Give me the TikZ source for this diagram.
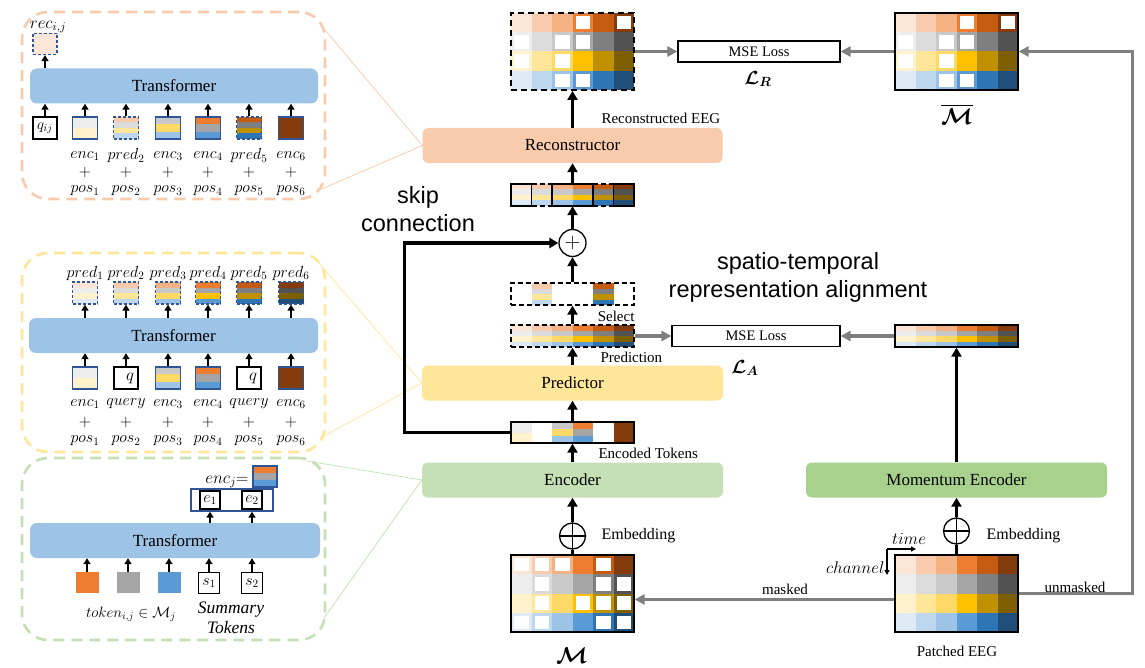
\RequirePackage{fix-cm}
\documentclass[tikz,border=0pt]{standalone}
\usepackage{amsmath,amssymb,bm}
\usepackage{fontspec}
\setmainfont{Liberation Serif}
\setsansfont{Liberation Sans}
\usetikzlibrary{arrows.meta,calc}
\definecolor{o1}{HTML}{FBE5D6}\definecolor{o2}{HTML}{F8CBAD}\definecolor{o3}{HTML}{F4B183}\definecolor{o4}{HTML}{ED7D31}\definecolor{o5}{HTML}{C55A11}\definecolor{o6}{HTML}{843C0C}
\definecolor{g1}{HTML}{EDEDED}\definecolor{g2}{HTML}{DBDBDB}\definecolor{g3}{HTML}{C9C9C9}\definecolor{g4}{HTML}{A5A5A5}\definecolor{g5}{HTML}{7F7F7F}\definecolor{g6}{HTML}{525252}
\definecolor{y1}{HTML}{FFF2CC}\definecolor{y2}{HTML}{FFE699}\definecolor{y3}{HTML}{FFD966}\definecolor{y4}{HTML}{FFC000}\definecolor{y5}{HTML}{BF9000}\definecolor{y6}{HTML}{7F6000}
\definecolor{b1}{HTML}{DEEBF7}\definecolor{b2}{HTML}{BDD7EE}\definecolor{b3}{HTML}{9DC3E6}\definecolor{b4}{HTML}{5B9BD5}\definecolor{b5}{HTML}{2E75B6}\definecolor{b6}{HTML}{1F4E79}
\definecolor{recf}{HTML}{F8CBAD}\definecolor{predf}{HTML}{FFE699}\definecolor{encf}{HTML}{C5E0B4}\definecolor{momf}{HTML}{A9D18E}
\definecolor{trf}{HTML}{9DC3E6}\definecolor{tokblue}{HTML}{2F5597}\definecolor{garrow}{HTML}{7F7F7F}
\newcommand\tokbands[6]{%
  \foreach \cl [count=\kk from 0] in {#6} {%
    \fill[fill=\cl] ({#1-#3/2},{#2+\kk*#4/#5}) rectangle ({#1+#3/2},{#2+(\kk+1)*#4/#5});}}
\newcommand\bandstrip[3]{%
  \foreach \rr [count=\ri from 0] in {o,g,y,b} {%
    \foreach \cc in {#3} {%
      \fill[fill=\rr\cc] ({#1+(\cc-1)*20.5},{#2+\ri*5.5}) rectangle ++(20.5,5.5);}}}
\newcommand\eegfill[2]{%
  \foreach \rr [count=\ri from 0] in {o,g,y,b} {%
    \foreach \cc in {1,...,6} {%
      \fill[fill=\rr\cc] ({#1+(\cc-1)*20.5},{#2+\ri*19.25}) rectangle ++(20.5,19.25);}}}
\newcommand\eegmask[3]{%
  \foreach \cc/\ri in {#3} {%
    \fill[white] ({#1+(\cc-1)*20.5+3},{#2+\ri*19.25+2.8}) rectangle ++(14.5,13.65);}}
\begin{document}
\begin{tikzpicture}[x=1pt,y=-1pt,
 module/.style={rounded corners=6pt, minimum height=35pt, inner sep=0pt, font=\fontsize{17}{19}\selectfont},
 trans/.style={rounded corners=7pt, fill=trf, minimum height=35pt, inner sep=0pt, font=\fontsize{17}{19}\selectfont},
 panel/.style={dash pattern=on 11pt off 7pt, line width=2.6pt, rounded corners=26pt, minimum width=303pt, inner sep=0pt},
 eegbox/.style={draw, line width=1.3pt, minimum width=123pt, minimum height=77pt, inner sep=0pt},
 tstrip/.style={draw, line width=1.3pt, minimum width=123pt, minimum height=22pt, inner sep=0pt},
 tline/.style={line width=3pt},
 arr/.style={line width=3pt, -{Triangle[length=9pt,width=10pt]}},
 garr/.style={draw=garrow, line width=3.2pt, -{Triangle[length=10pt,width=10pt]}},
 parr/.style={line width=2.2pt, -{Triangle[length=6pt,width=7pt]}},
 tokb/.style={draw=tokblue, line width=1.3pt, minimum width=25pt, minimum height=22pt, inner sep=0pt},
 tokd/.style={tokb, dash pattern=on 3pt off 2pt},
 tokq/.style={draw=black, line width=1.8pt, minimum width=24pt, minimum height=22pt, inner sep=0pt},
 lbl/.style={font=\fontsize{15}{17}\selectfont},
 mlbl/.style={font=\fontsize{17}{19}\selectfont},
 rowl/.style={font=\fontsize{16}{18}\selectfont, inner sep=0pt},
 sans/.style={font=\sffamily\fontsize{23.5}{28}\selectfont, align=center},
 loss/.style={draw, line width=1.2pt, minimum height=21pt, inner sep=0pt, font=\fontsize{14.5}{16}\selectfont},
 conn/.style={line width=0.7pt},
 plusc/.style={circle, draw, line width=1.3pt, minimum size=27pt, inner sep=0pt, fill=white}
]
\useasboundingbox (0,0) rectangle (1145,668);
\fill[white] (0,0) rectangle (1145,668);

% ---------- left panels ----------
\node[panel, draw=recf, minimum height=187pt] (p1) at (173.5,105.5) {};
\node[panel, draw=predf, minimum height=199pt] (p2) at (173.5,352.5) {};
\node[panel, draw=encf, minimum height=182pt] (p3) at (173.5,549) {};

% ---------- main modules ----------
\node[module, fill=recf, minimum width=300pt] (recon) at (572.5,145.5) {Reconstructor};
\node[module, fill=predf, minimum width=301pt] (pred) at (572.5,383) {Predictor};
\node[module, fill=encf, minimum width=301pt] (enc) at (572.5,480) {Encoder};
\node[module, fill=momf, minimum width=301pt] (mom) at (956.5,480) {Momentum Encoder};

% connectors from panels
\coordinate (p1a) at (325,30); \coordinate (p1b) at (317,191);
\coordinate (p2a) at (318,262); \coordinate (p2b) at (322,437);
\coordinate (p3a) at (307,461); \coordinate (p3b) at (324,618);
\draw[conn, draw=recf] (p1a) -- (recon.west) -- (p1b);
\draw[conn, draw=predf] (p2a) -- (pred.west) -- (p2b);
\draw[conn, draw=encf] (p3a) -- (enc.west) -- (p3b);

% ---------- EEG grids ----------
\eegfill{511}{13}\eegmask{511}{13}{4/0,6/0,1/1,3/1,4/1,1/2,3/2,3/3,4/3}
\node[eegbox, dash pattern=on 6pt off 4pt, line width=1.8pt] (recgrid) at (572.5,51.5) {};
\eegfill{895}{13}\eegmask{895}{13}{4/0,6/0,1/1,3/1,4/1,1/2,3/2,3/3,4/3}
\node[eegbox] (mbar) at (956.5,51.5) {};
\eegfill{511}{555}\eegmask{511}{555}{1/0,2/0,3/0,5/0,2/1,5/1,6/1,2/2,4/2,5/2,6/2,1/3,2/3,5/3,6/3}
\node[eegbox] (M) at (572.5,593.5) {};
\eegfill{895}{555}
\node[eegbox] (patched) at (956.5,593.5) {};

% ---------- strips ----------
\bandstrip{511}{325}{1,...,6}
\node[tstrip, dash pattern=on 5pt off 3pt] (predstrip) at (572.5,336) {};
\bandstrip{895}{325}{1,...,6}
\node[tstrip] (momstrip) at (956.5,336) {};
\bandstrip{511}{283}{2,5}
\node[tstrip, dash pattern=on 5pt off 3pt] (select) at (572.5,294) {};
\bandstrip{511}{184}{1,...,6}
\node[minimum width=123pt, minimum height=22pt, inner sep=0pt] (comb) at (572.5,195) {};
\draw[line width=1.3pt] (511,184) rectangle (531.5,206) (552,184) rectangle (593,206) (613.5,184) rectangle (634,206);
\draw[line width=1.3pt, dash pattern=on 5pt off 3pt] (531.5,184) -- (552,184) (531.5,206) -- (552,206) (593,184) -- (613.5,184) (593,206) -- (613.5,206);
\tokbands{521.25}{422}{20.5}{21}{2}{g1,y1}
\tokbands{562.25}{422}{20.5}{21}{3}{g3,y3,b3}
\tokbands{582.75}{422}{20.5}{21}{3}{o4,g4,b4}
\tokbands{623.75}{422}{20.5}{21}{1}{o6}
\node[tstrip, minimum height=21pt] (encstrip) at (572.5,432.5) {};

% ---------- circles ----------
\node[plusc] (plus) at (572.5,243) {\fontsize{22}{22}\selectfont$+$};
\node[circle, draw, line width=1.3pt, minimum size=26pt, inner sep=0pt] (embL) at (572.5,536) {};
\draw[line width=1.3pt] (embL.west) -- (embL.east);
\node[circle, draw, line width=1.3pt, minimum size=26pt, inner sep=0pt] (embR) at (956.5,531) {};
\draw[line width=1.3pt] (embR.west) -- (embR.east);

% ---------- black arrows ----------
\draw[line width=1.3pt] (embL.north) -- (embL.south);
\draw[line width=1.3pt] (embR.north) -- (embR.south);
\draw[tline] (M.north) -- (embL.south);
\draw[arr] (embL.north) -- (enc.south);
\draw[arr] (enc.north) -- (encstrip.south);
\draw[arr] (encstrip.north) -- (pred.south);
\draw[arr] (pred.north) -- (predstrip.south);
\draw[arr] (predstrip.north) -- (select.south);
\draw[arr] (select.north) -- (plus.south);
\draw[arr] (plus.north) -- (comb.south);
\draw[arr] (comb.north) -- (recon.south);
\draw[arr] (recon.north) -- (recgrid.south);
\draw[tline] (patched.north) -- (embR.south);
\draw[arr] (embR.north) -- (mom.south);
\draw[arr] (mom.north) -- (momstrip.south);
\draw[arr, line width=3.2pt] (encstrip.west) -- ++(-106,0) |- (plus.west);

% ---------- losses and gray arrows ----------
\node[loss, minimum width=162pt] (mseR) at (759,51.5) {MSE Loss};
\node[loss, minimum width=168pt] (mseA) at (756,336) {MSE Loss};
\draw[garr] (recgrid.east) -- (mseR.west);
\draw[garr] (mbar.west) -- (mseR.east);
\draw[garr] (predstrip.east) -- (mseA.west);
\draw[garr] (momstrip.west) -- (mseA.east);
\draw[garr] (patched.east) -- ++(114,0) |- (mbar.east);
\draw[garr] ([yshift=-6pt]patched.west) -- ([yshift=-6pt]M.east);

% ---------- labels ----------
\node[font=\fontsize{19}{21}\selectfont] (LR) at (758,79) {$\bm{\mathcal{L}_R}$};
\node[font=\fontsize{19}{21}\selectfont] (LA) at (745,368) {$\bm{\mathcal{L}_A}$};
\node[font=\fontsize{23}{25}\selectfont] (mbarlbl) at (957,114) {$\overline{\bm{\mathcal{M}}}$};
\node[font=\fontsize{23}{25}\selectfont] (Mlbl) at (572,656) {$\bm{\mathcal{M}}$};
\node[lbl] (patlbl) at (957,651) {Patched EEG};
\node[lbl, anchor=west] (reclbl) at (598,118) {Reconstructed EEG};
\node[lbl, anchor=west] (enclbl) at (595,453) {Encoded Tokens};
\node[lbl, anchor=west] (predlbl) at (597,357) {Prediction};
\node[lbl, anchor=east] (sellbl) at (638,316) {Select};
\node[font=\fontsize{16}{18}\selectfont, anchor=west] (embLl) at (598,536) {Embedding};
\node[font=\fontsize{16}{18}\selectfont, anchor=west] (embRl) at (983,536) {Embedding};
\node[lbl] (masklbl) at (785,589) {masked};
\node[lbl] (unmasklbl) at (1075,587) {unmasked};
\node[sans] (skiplbl) at (418,209) {skip\\connection};
\node[sans] (stlbl) at (798,277) {spatio-temporal\\representation alignment};
\coordinate (ax) at (887,549);
\draw[line width=1.2pt, -{Triangle[length=5pt,width=5pt]}] (ax) -- ++(29,0);
\draw[line width=1.2pt, -{Triangle[length=5pt,width=5pt]}] (ax) -- ++(0,26);
\node[mlbl] (timelbl) at (909,539) {$time$};
\node[mlbl, anchor=east] (chlbl) at (888,568) {$channel$};

% ---------- panel 1 ----------
\node[trans, minimum width=288pt] (t1) at (174,86) {Transformer};
\node[tokq] (q1) at (45,128) {\fontsize{15}{15}\selectfont$q_{ij}$};
\tokbands{85}{117}{25}{22}{2}{g1,y1}\node[tokb] (a1) at (85,128) {};
\tokbands{126}{117}{25}{22}{4}{o2,g2,y2,b2}\node[tokd] (a2) at (126,128) {};
\tokbands{168}{117}{25}{22}{3}{g3,y3,b3}\node[tokb] (a3) at (168,128) {};
\tokbands{208}{117}{25}{22}{3}{o4,g4,b4}\node[tokb] (a4) at (208,128) {};
\tokbands{249}{117}{25}{22}{4}{o5,g5,y5,b5}\node[tokd] (a5) at (249,128) {};
\tokbands{291}{117}{25}{22}{1}{o6}\node[tokb] (a6) at (291,128) {};
\foreach \n in {q1,a1,a2,a3,a4,a5,a6} {\draw[parr] (\n.north) -- (\n.north |- t1.south);}
\node[tokd, fill=o1, minimum width=24pt, minimum height=21pt] (rec) at (45,44) {};
\draw[parr] (q1.north |- t1.north) -- (rec.south);
\node[mlbl] (reclab) at (48,27) {$rec_{i,j}$};
\foreach \xx/\lab [count=\kk] in {85/enc_1,126/pred_2,168/enc_3,208/enc_4,249/pred_5,291/enc_6} {
  \node[rowl] at (\xx,156) {$\lab$};
  \node[rowl] at (\xx,173) {$+$};
  \node[rowl] at (\xx,191) {$pos_{\kk}$};}

% ---------- panel 2 ----------
\node[trans, minimum width=289pt] (t2) at (173.5,335.5) {Transformer};
\tokbands{85}{282}{25}{22}{4}{o1,g1,y1,b1}\node[tokd] (pt1) at (85,293) {};
\tokbands{126}{282}{25}{22}{4}{o2,g2,y2,b2}\node[tokd] (pt2) at (126,293) {};
\tokbands{168}{282}{25}{22}{4}{o3,g3,y3,b3}\node[tokd] (pt3) at (168,293) {};
\tokbands{208}{282}{25}{22}{4}{o4,g4,y4,b4}\node[tokd] (pt4) at (208,293) {};
\tokbands{249}{282}{25}{22}{4}{o5,g5,y5,b5}\node[tokd] (pt5) at (249,293) {};
\tokbands{291}{282}{25}{22}{4}{o6,g6,y6,b6}\node[tokd] (pt6) at (291,293) {};
\tokbands{85}{367}{25}{22}{2}{g1,y1}\node[tokb] (it1) at (85,378) {};
\node[tokq] (it2) at (126,378) {};
\node[mlbl] at ([xshift=4pt]it2.center) {$q$};
\tokbands{168}{367}{25}{22}{3}{g3,y3,b3}\node[tokb] (it3) at (168,378) {};
\tokbands{208}{367}{25}{22}{3}{o4,g4,b4}\node[tokb] (it4) at (208,378) {};
\node[tokq] (it5) at (249,378) {};
\node[mlbl] at ([xshift=4pt]it5.center) {$q$};
\tokbands{291}{367}{25}{22}{1}{o6}\node[tokb] (it6) at (291,378) {};
\foreach \n in {it1,it2,it3,it4,it5,it6} {\draw[parr] (\n.north) -- (\n.north |- t2.south);}
\foreach \n in {pt1,pt2,pt3,pt4,pt5,pt6} {\draw[parr] (\n.south |- t2.north) -- (\n.south);}
\foreach \xx/\lab [count=\kk] in {85/enc_1,126/query,168/enc_3,208/enc_4,249/query,291/enc_6} {
  \node[rowl] at (\xx,273) {$pred_{\kk}$};
  \node[rowl] at (\xx,404) {$\lab$};
  \node[rowl] at (\xx,422) {$+$};
  \node[rowl] at (\xx,441) {$pos_{\kk}$};}

% ---------- panel 3 ----------
\node[trans, minimum width=290pt] (t3) at (175,540.5) {Transformer};
\node[minimum width=23pt, minimum height=21pt, inner sep=0pt, fill=o4] (c1) at (87,582.5) {};
\node[minimum width=23pt, minimum height=21pt, inner sep=0pt, fill=g4] (c2) at (128,582.5) {};
\node[minimum width=23pt, minimum height=21pt, inner sep=0pt, fill=b4] (c3) at (169,582.5) {};
\node[tokq, minimum width=21pt, minimum height=21pt, font=\fontsize{16}{16}\selectfont] (s1) at (209,583) {$s_1$};
\node[tokq, minimum width=21pt, minimum height=21pt, font=\fontsize{16}{16}\selectfont] (s2) at (252,583) {$s_2$};
\foreach \n in {c1,c2,c3,s1,s2} {\draw[parr] (\n.north) -- (\n.north |- t3.south);}
\node[draw=tokblue, line width=1.3pt, minimum width=82pt, minimum height=22pt, inner sep=0pt] (ebox) at (232,500) {};
\node[tokq, minimum width=20pt, minimum height=18pt, font=\fontsize{16}{16}\selectfont] (e1) at (210,500) {$e_1$};
\node[tokq, minimum width=20pt, minimum height=18pt, font=\fontsize{16}{16}\selectfont] (e2) at (252,500) {$e_2$};
\draw[parr] (e1 |- t3.north) -- (e1 |- ebox.south);
\draw[parr] (e2 |- t3.north) -- (e2 |- ebox.south);
\tokbands{265}{466}{24}{21}{3}{o4,g4,b4}\node[tokb, minimum width=24pt, minimum height=21pt] (encj) at (265,476.5) {};
\node[mlbl, anchor=east] (encjl) at (252,482) {$enc_j{=}$};
\node[font=\fontsize{15}{17}\selectfont] (toklbl) at (131,614) {$token_{i,j}\in\mathcal{M}_j$};
\node[font=\itshape\fontsize{17.5}{20}\selectfont, align=center] (sumlbl) at (231,618) {Summary\\Tokens};
\end{tikzpicture}
\end{document}
